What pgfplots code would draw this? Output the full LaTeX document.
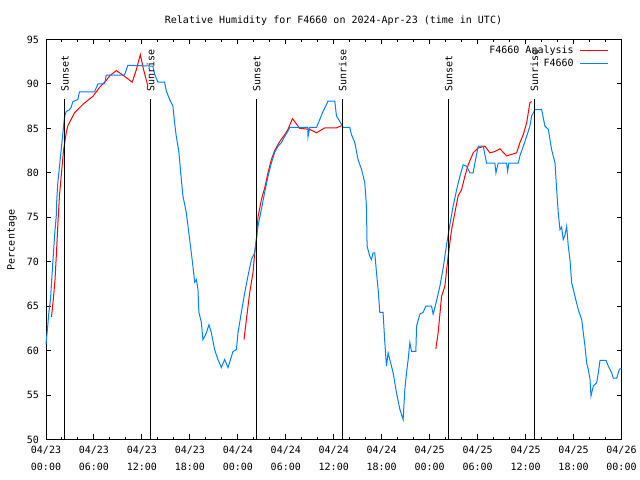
\documentclass[border=0pt]{standalone}
\usepackage{pgfplots}
\pgfplotsset{compat=1.18}
\usepackage{fontspec}
\setmainfont{DejaVu Sans Mono}
\definecolor{anared}{RGB}{255,0,0}
\definecolor{obsblue}{RGB}{0,128,255}
\pgfplotsset{
  legend image code/.code={\draw[#1] (0bp,0bp) -- (28bp,0bp);},
}
\begin{document}
\begin{tikzpicture}[x=1bp,y=1bp,font=\fontsize{10bp}{12bp}\selectfont]
\useasboundingbox (0,0) rectangle (640,480);
\begin{axis}[
  at={(46bp,40.5bp)}, anchor=south west,
  width=575.5bp, height=400bp, scale only axis,
  xmin=0, xmax=72, ymin=50, ymax=95,
  xtick={0,6,...,72},
  xticklabels={{04/23\\[4.5bp]00:00},{04/23\\[4.5bp]06:00},{04/23\\[4.5bp]12:00},{04/23\\[4.5bp]18:00},{04/24\\[4.5bp]00:00},{04/24\\[4.5bp]06:00},{04/24\\[4.5bp]12:00},{04/24\\[4.5bp]18:00},{04/25\\[4.5bp]00:00},{04/25\\[4.5bp]06:00},{04/25\\[4.5bp]12:00},{04/25\\[4.5bp]18:00},{04/26\\[4.5bp]00:00}},
  minor x tick num=2,
  ytick={50,55,...,95},
  tick align=inside,
  xtick pos=both, ytick pos=both,
  major tick length=5bp, minor tick length=2.5bp,
  every tick/.style={black, line width=1bp},
  axis line style={line width=1bp},
  /pgf/number format/assume math mode=true,
  yticklabel style={xshift=-3.5bp},
  xticklabel style={align=center, yshift=-3.5bp},
  clip=false,
  unbounded coords=jump,
  legend plot pos=right,
  legend style={draw=none, fill=none, inner sep=0pt, at={(0.978,0.99)}, anchor=north east,
    cells={anchor=east}, column sep=4bp, row sep=0bp, font=\fontsize{10bp}{12bp}\selectfont},
]
\addplot[anared, line width=1bp] table {
x y
0.69 63.8
0.94 66.0
1.13 68.0
1.31 71.0
1.50 74.5
1.69 77.5
1.94 80.0
2.19 82.5
2.53 84.5
2.73 85.3
3.57 86.75
4.61 87.7
5.86 88.6
6.70 89.6
7.54 90.4
7.95 90.9
8.79 91.5
9.62 91.0
10.79 90.2
11.30 91.6
11.80 93.3
12.21 91.6
12.75 89.75
13.0 nan
24.77 61.25
25.07 63.5
25.48 66.5
25.90 68.8
26.11 71.0
26.32 72.5
26.52 75.0
26.95 77.0
27.36 78.3
27.77 80.0
28.20 81.5
28.61 82.5
29.03 83.2
29.45 83.8
29.87 84.3
30.28 84.9
30.83 86.1
31.74 85.0
32.99 84.9
33.84 84.5
34.87 85.06
36.34 85.06
36.96 85.3
37.5 nan
48.77 60.2
49.06 62.0
49.49 66.1
49.90 67.25
50.31 70.6
50.74 73.6
51.15 75.5
51.56 77.4
51.99 78.1
52.40 79.6
52.82 80.9
53.44 82.25
54.07 82.8
54.91 83.0
55.53 82.25
56.16 82.4
56.79 82.7
57.63 81.9
58.88 82.25
59.29 83.4
59.71 84.3
60.13 85.6
60.54 87.9
60.76 88.0
};
\addlegendentry{F4660 Analysis}
\addplot[obsblue, line width=1bp] table {
x y
0.00 60.7
0.23 62.9
0.35 64.25
0.56 65.75
0.69 67.6
0.85 69.9
0.98 71.6
1.10 73.25
1.28 75.1
1.35 77.0
1.48 78.9
1.90 82.6
2.32 86.3
2.53 86.9
2.94 87.1
3.16 87.4
3.36 88.0
3.98 88.25
4.19 89.1
6.07 89.1
6.49 90.0
7.33 90.0
7.54 91.0
9.83 91.0
10.24 92.1
13.37 92.0
13.59 91.1
14.00 90.2
14.84 90.2
15.05 89.2
15.47 88.25
15.88 87.5
16.09 85.6
16.30 84.1
16.63 82.3
16.93 79.25
17.13 77.4
17.56 75.5
17.97 72.5
18.18 71.0
18.38 69.5
18.60 67.7
18.81 68.0
19.01 66.9
19.13 64.3
19.43 63.2
19.63 61.25
19.85 61.6
20.06 62.0
20.39 62.9
20.69 62.0
21.10 60.1
21.51 59.0
21.94 58.1
22.35 59.0
22.77 58.1
23.19 59.3
23.39 59.9
23.82 60.1
24.02 62.0
24.44 64.3
24.86 66.5
25.27 68.4
25.70 70.25
26.11 71.0
26.32 72.5
26.52 74.0
26.95 75.9
27.36 77.8
27.77 79.6
28.20 81.1
28.61 82.3
29.03 83.0
29.45 83.4
29.87 84.1
30.28 84.7
30.49 85.1
32.75 85.1
32.78 84.05
33.00 85.1
33.84 85.1
34.25 86.0
34.66 86.9
35.29 88.06
36.13 88.06
36.34 86.4
36.75 85.8
37.17 85.1
38.00 85.1
38.22 84.3
38.63 83.4
39.04 81.5
39.47 80.4
39.88 78.9
40.09 76.25
40.17 71.75
40.51 70.6
40.72 70.25
40.92 71.0
41.13 71.0
41.35 68.75
41.55 66.9
41.76 64.3
42.17 64.3
42.39 60.9
42.60 58.25
42.80 59.75
43.01 59.0
43.43 57.5
43.85 55.25
44.27 53.4
44.68 52.25
44.89 55.6
45.10 57.5
45.31 59.0
45.52 60.9
45.73 59.9
46.27 59.9
46.36 62.75
46.77 64.1
47.18 64.3
47.52 65.0
48.23 65.0
48.44 64.1
48.86 65.6
49.28 67.25
49.69 69.3
50.11 71.9
50.53 74.2
50.94 76.25
51.37 78.1
51.78 79.6
52.19 80.9
52.62 80.75
53.03 80.0
53.44 80.0
53.66 81.1
54.07 83.0
54.70 83.0
55.12 81.1
56.16 81.1
56.29 80.0
56.57 81.1
57.63 81.1
57.75 80.2
57.91 81.1
59.08 81.1
59.29 81.9
59.71 83.0
60.13 84.1
60.54 85.25
60.76 86.4
61.17 87.1
62.01 87.1
62.42 85.25
62.84 84.9
63.26 82.6
63.68 81.1
63.89 78.1
64.09 75.5
64.30 73.6
64.51 73.9
64.71 72.5
64.93 73.0
65.14 74.0
65.34 71.75
65.55 70.25
65.77 67.6
66.18 66.1
66.59 64.6
67.02 63.5
67.22 62.0
67.43 60.5
67.64 58.6
67.84 57.9
68.06 56.75
68.18 54.9
68.47 56.0
68.90 56.4
69.10 57.5
69.31 58.9
70.06 58.9
70.35 58.25
70.77 57.5
70.97 56.9
71.40 56.9
71.73 57.9
72.00 58.0
};
\addlegendentry{F4660}
\pgfplotsinvokeforeach{2.37,26.35,50.38}{
  \draw[black, line width=1bp] (axis cs:#1,50) -- (axis cs:#1,88.25);
  \node[rotate=90, anchor=west, inner sep=0pt] at (axis cs:#1,89.1) {Sunset};
}
\pgfplotsinvokeforeach{13.1,37.12,61.1}{
  \draw[black, line width=1bp] (axis cs:#1,50) -- (axis cs:#1,88.25);
  \node[rotate=90, anchor=west, inner sep=0pt] at (axis cs:#1,89.1) {Sunrise};
}
\end{axis}
\node at (333.5,459) {Relative Humidity for F4660 on 2024-Apr-23 (time in UTC)};
\node[rotate=90] at (12,240) {Percentage};
\end{tikzpicture}
\end{document}
